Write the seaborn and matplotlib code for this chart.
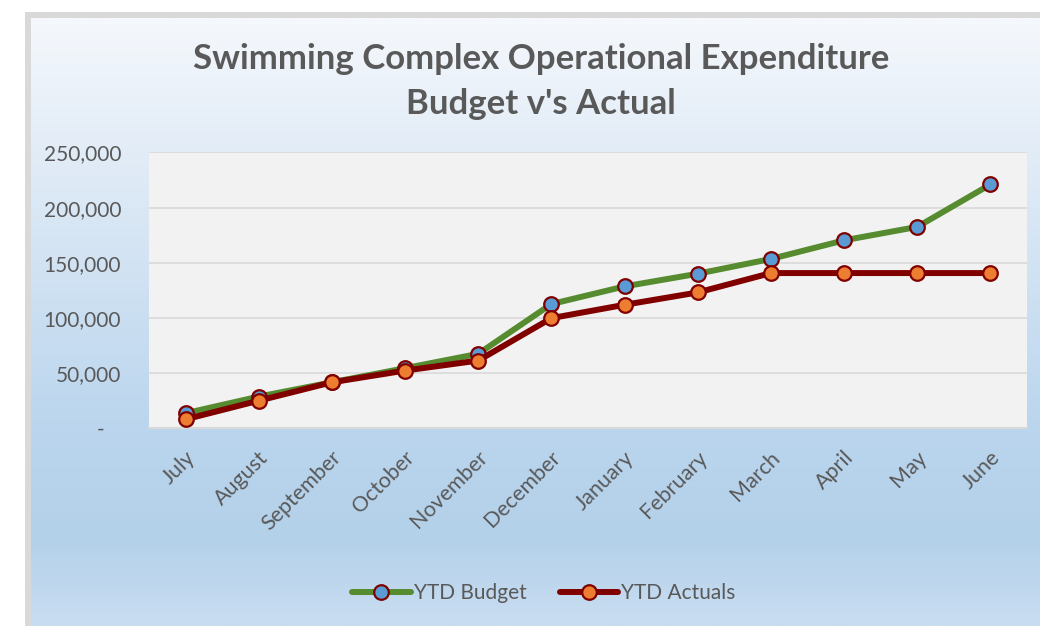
import numpy as np
import pandas as pd
import matplotlib
matplotlib.use("Agg")
import matplotlib.pyplot as plt
from matplotlib.colors import LinearSegmentedColormap
from matplotlib.patches import Rectangle
from matplotlib.transforms import ScaledTranslation
import seaborn as sns

# ---- data -------------------------------------------------------------
months = ["July", "August", "September", "October", "November", "December",
          "January", "February", "March", "April", "May", "June"]
ytd_budget = [13400, 28500, 41500, 54300, 67300, 112500,
              128500, 140000, 153400, 170300, 182500, 221000]
ytd_actuals = [7900, 24800, 41500, 52100, 61200, 99700,
               111800, 123000, 140600, 140600, 140600, 140600]
series_names = ["YTD Budget", "YTD Actuals"]
yticks = [0, 50000, 100000, 150000, 200000, 250000]
ytick_labels = ["-   ", "50,000", "100,000", "150,000", "200,000", "250,000"]
title_lines = ["Swimming Complex Operational Expenditure", "Budget v's Actual"]

df = pd.DataFrame({"month": months, "budget": ytd_budget, "actuals": ytd_actuals})

# ---- styling ----------------------------------------------------------
sns.set_theme(style="white")
plt.rcParams["font.family"] = ["Lato", "DejaVu Sans"]
text_grey = "#595959"

W, H, DPI = 1040, 626, 100
fig = plt.figure(figsize=(W / DPI, H / DPI), dpi=DPI, facecolor="white")

# chart-area background: vertical gradient inside a grey frame
bg = fig.add_axes([0, 0, 1, 1], zorder=-10)
bg.set_xlim(0, W)
bg.set_ylim(H, 0)
bg.axis("off")
grad = LinearSegmentedColormap.from_list(
    "chartfill",
    [(0.0, "#f5f8fc"), (0.22, "#e2ecf7"), (0.68, "#bad5ed"),
     (0.86, "#b4d1ea"), (1.0, "#c9ddf1")])
g = np.linspace(0, 1, 256).reshape(-1, 1)
bg.imshow(g, cmap=grad, aspect="auto", extent=(31, W, H, 18), zorder=1)
bg.add_patch(Rectangle((25, 12), W, 6, color="#d9d9d9", lw=0, zorder=2))
bg.add_patch(Rectangle((25, 12), 6, H, color="#d9d9d9", lw=0, zorder=2))

# plot area
ax = fig.add_axes([149 / W, 1 - 428 / H, (1027 - 149) / W, (428 - 152.5) / H])
ax.set_facecolor("#f2f2f2")

line_kw = dict(marker="o", markersize=10.5, markeredgewidth=1.6,
               markeredgecolor="#800000", linewidth=4.3, sort=False)
sns.lineplot(data=df, x="month", y="budget", ax=ax, color="#568b2f",
             markerfacecolor="#5b9bd5", label=series_names[0], zorder=3, **line_kw)
sns.lineplot(data=df, x="month", y="actuals", ax=ax, color="#800000",
             markerfacecolor="#ed7d31", label=series_names[1], zorder=4, **line_kw)

ax.set_xlim(-0.5, len(months) - 0.5)
ax.set_ylim(0, 250000)
ax.set_yticks(yticks)
ax.set_yticklabels(ytick_labels)
ax.set_xlabel("")
ax.set_ylabel("")
ax.yaxis.grid(True, color="#d9d9d9", linewidth=1.2)
ax.set_axisbelow(True)
for side in ["left", "right", "top"]:
    ax.spines[side].set_visible(False)
ax.spines["bottom"].set_color("#d9d9d9")
ax.spines["bottom"].set_linewidth(1.5)
ax.tick_params(axis="both", length=0, labelsize=15, labelcolor=text_grey)
ax.tick_params(axis="x", labelsize=15.5)
ax.tick_params(axis="y", pad=20)
ax.tick_params(axis="x", pad=19)

shift = ScaledTranslation(6 / DPI, 0, fig.dpi_scale_trans)
for lab in ax.get_xticklabels():
    lab.set_rotation(45)
    lab.set_ha("right")
    lab.set_va("center")
    lab.set_rotation_mode("anchor")
    lab.set_transform(lab.get_transform() + shift)

# title
fig.text(541 / W, 1 - 59 / H, title_lines[0], ha="center", va="center",
         fontsize=25, fontweight="bold", color=text_grey)
fig.text(541 / W, 1 - 104 / H, title_lines[1], ha="center", va="center",
         fontsize=25, fontweight="bold", color=text_grey)

# legend along the bottom
handles, labels = ax.get_legend_handles_labels()
ax.get_legend().remove()
fig.legend(handles, labels, loc="center", bbox_to_anchor=(544 / W, 1 - 593 / H),
           ncol=2, frameon=False, fontsize=15, labelcolor=text_grey,
           handlelength=2.8, handletextpad=0.15, columnspacing=1.6)

fig.savefig("out.png", dpi=DPI, facecolor="white")
